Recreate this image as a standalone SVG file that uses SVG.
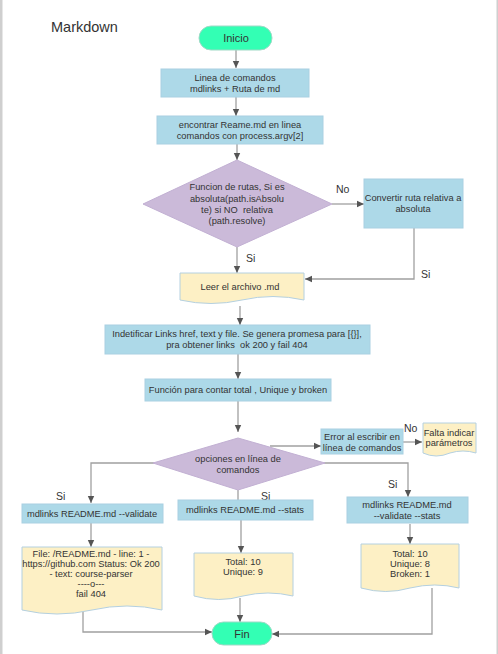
<svg xmlns="http://www.w3.org/2000/svg" width="498" height="654" viewBox="0 0 498 654">
<defs>
<style>
text{font-family:"Liberation Sans",Arial,sans-serif;fill:#333;text-anchor:middle;white-space:pre}
.t{font-size:9.3px}
.l{font-size:10.5px;text-anchor:start}
.box{fill:#add9e8;stroke:#a9d0e2;stroke-width:1}
.dia{fill:#cbbad9;stroke:#c2b0d3;stroke-width:1}
.doc{fill:#fdf0c5;stroke:#b4d0e0;stroke-width:1}
.term{fill:#33ffb4;stroke:#9fd9c6;stroke-width:1}
.c{fill:none;stroke:#a0a0a0;stroke-width:1.3}
</style>
<marker id="a" markerWidth="8" markerHeight="8" refX="7" refY="4" orient="auto" markerUnits="userSpaceOnUse"><path d="M0,0.8 L7,4 L0,7.2 z" fill="#555"/></marker>
</defs>
<rect x="0" y="0" width="498" height="654" fill="#fff"/>
<rect x="0" y="0" width="2.5" height="654" fill="#cfcfcf"/>
<rect x="496.5" y="0" width="1.5" height="654" fill="#cfcfcf"/>
<text x="51" y="32" style="font-size:14.5px;text-anchor:start">Markdown</text>

<g id="connectors">
<path class="c" d="M236,50 V68" marker-end="url(#a)"/>
<path class="c" d="M236,97 V116" marker-end="url(#a)"/>
<path class="c" d="M237,144 V160" marker-end="url(#a)"/>
<path class="c" d="M332,204 H364" marker-end="url(#a)"/>
<path class="c" d="M237,247 V273" marker-end="url(#a)"/>
<path class="c" d="M414,228 V279 H305" marker-end="url(#a)"/>
<path class="c" d="M240,306 V325" marker-end="url(#a)"/>
<path class="c" d="M238,354 V379" marker-end="url(#a)"/>
<path class="c" d="M238,401 V432" marker-end="url(#a)"/>
<path class="c" d="M270,446 H321" marker-end="url(#a)"/>
<path class="c" d="M403,442 H422" marker-end="url(#a)"/>
<path class="c" d="M154,463 H91 V503" marker-end="url(#a)"/>
<path class="c" d="M238,490 V500"/>
<path class="c" d="M324,463 H408 V497" marker-end="url(#a)"/>
<path class="c" d="M91,523 V547" marker-end="url(#a)"/>
<path class="c" d="M241,520 V553" marker-end="url(#a)"/>
<path class="c" d="M410,524 V544" marker-end="url(#a)"/>
<path class="c" d="M83,610 V632 H212" marker-end="url(#a)"/>
<path class="c" d="M240,598 V622" marker-end="url(#a)"/>
<path class="c" d="M432,588 V634 H272" marker-end="url(#a)"/>
<text class="l" x="336" y="193">No</text>
<text class="l" x="246" y="262">Si</text>
<text class="l" x="421" y="278">Si</text>
<text class="l" x="404" y="432">No</text>
<text class="l" x="56" y="500">Si</text>
<text class="l" x="261" y="500">Si</text>
<text class="l" x="388" y="488">Si</text>
</g>

<g id="inicio">
<rect class="term" x="199" y="26" width="73" height="24" rx="12"/>
<text x="236" y="42" style="font-size:11px">Inicio</text>
</g>
<g id="linea">
<rect class="box" x="161" y="69" width="148" height="28"/>
<text class="t" x="235" y="81">Linea de comandos</text>
<text class="t" x="235" y="92">mdlinks + Ruta de md</text>
</g>
<g id="encontrar">
<rect class="box" x="157" y="116" width="166" height="28"/>
<text class="t" x="240" y="128">encontrar Reame.md en linea</text>
<text class="t" x="240" y="139">comandos con process.argv[2]</text>
</g>
<g id="rutas">
<path class="dia" d="M237,160 L332,204 L237,247 L143,204 Z"/>
<text class="t" x="237" y="190">Funcion de rutas, Si es</text>
<text class="t" x="237" y="202">absoluta(path.isAbsolu</text>
<text class="t" x="237" y="213">te) si NO  relativa</text>
<text class="t" x="237" y="224">(path.resolve)</text>
</g>
<g id="convertir">
<rect class="box" x="364" y="179" width="99" height="49"/>
<text class="t" x="413" y="201">Convertir ruta relativa a</text>
<text class="t" x="413" y="212">absoluta</text>
</g>
<g id="leer">
<path class="doc" d="M180,273 H304 V300 Q273,293 242,300 Q211,307 180,300 Z"/>
<text class="t" x="240" y="290">Leer el archivo .md</text>
</g>
<g id="identificar">
<rect class="box" x="105" y="325" width="265" height="29"/>
<text class="t" x="237" y="337">Indetificar Links href, text y file. Se genera promesa para [{}],</text>
<text class="t" x="237" y="348">pra obtener links  ok 200 y fail 404</text>
</g>
<g id="contar">
<rect class="box" x="145" y="379" width="186" height="22"/>
<text class="t" x="238" y="393">Función para contar total , Unique y broken</text>
</g>
<g id="opciones">
<path class="dia" d="M238,438 L325,463 L238,490 L153,463 Z"/>
<text class="t" x="238" y="462">opciones en línea de</text>
<text class="t" x="238" y="473">comandos</text>
</g>
<g id="error">
<rect class="box" x="321" y="429" width="82" height="25"/>
<text class="t" x="362" y="440">Error al escribir en</text>
<text class="t" x="362" y="451">línea de comandos</text>
</g>
<g id="falta">
<path class="doc" d="M423,423 H476 V453 Q463,449 450,453 Q436,459 423,453 Z"/>
<text class="t" x="449" y="436">Falta indicar</text>
<text class="t" x="449" y="446">parámetros</text>
</g>
<g id="validate">
<rect class="box" x="22" y="504" width="141" height="19"/>
<text class="t" x="92" y="517">mdlinks README.md --validate</text>
</g>
<g id="stats">
<rect class="box" x="178" y="500" width="135" height="20"/>
<text class="t" x="245" y="513">mdlinks README.md --stats</text>
</g>
<g id="validatestats">
<rect class="box" x="347" y="497" width="121" height="26"/>
<text class="t" x="407" y="508">mdlinks README.md</text>
<text class="t" x="407" y="519">--validate --stats</text>
</g>
<g id="resvalidate">
<path class="doc" d="M22,547 H162 V610 Q127,602 92,610 Q57,618 22,610 Z"/>
<text class="t" x="91" y="557">File: /README.md - line: 1 -</text>
<text class="t" x="91" y="567">https://github.com Status: Ok 200</text>
<text class="t" x="91" y="577">- text: course-parser</text>
<text class="t" x="91" y="587">----o---</text>
<text class="t" x="91" y="597">fail 404</text>
</g>
<g id="resstats">
<path class="doc" d="M194,553 H293 V596 Q268,590 243,596 Q219,603 194,596 Z"/>
<text class="t" x="243" y="565">Total: 10</text>
<text class="t" x="243" y="575">Unique: 9</text>
</g>
<g id="resvalidatestats">
<path class="doc" d="M361,544 H459 V588 Q435,582 410,588 Q386,595 361,588 Z"/>
<text class="t" x="410" y="557">Total: 10</text>
<text class="t" x="410" y="567">Unique: 8</text>
<text class="t" x="410" y="577">Broken: 1</text>
</g>
<g id="fin">
<rect class="term" x="212" y="622" width="60" height="23" rx="11.5"/>
<text x="242" y="638" style="font-size:11px">Fin</text>
</g>
</svg>
